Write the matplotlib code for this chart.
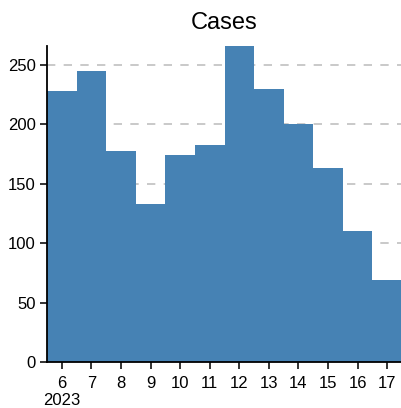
import matplotlib
matplotlib.use("Agg")
import matplotlib.pyplot as plt

weeks = [6, 7, 8, 9, 10, 11, 12, 13, 14, 15, 16, 17]
cases = [228, 245, 178, 133, 174, 183, 266, 230, 200, 163, 110, 69]
tick_labels = ["6\n2023", "7", "8", "9", "10", "11", "12", "13", "14", "15", "16", "17"]
yticks = [0, 50, 100, 150, 200, 250]

plt.rcParams['font.family'] = ['Liberation Sans', 'DejaVu Sans']
fig = plt.figure(figsize=(4.02, 4.08), dpi=100)
ax = fig.add_axes([0.117, 0.1127, 0.883, 0.7745])
ax.bar(weeks, cases, width=1.0, color='#4682b4', linewidth=0, zorder=2)
ax.set_xlim(5.5, 17.5)
ax.set_ylim(0, max(cases))
ax.set_xticks(weeks)
ax.set_xticklabels(tick_labels, fontsize=12, ha='center', va='top', linespacing=1.15)
for lbl in ax.get_xticklabels():
    lbl.set_multialignment('center')
ax.set_yticks(yticks)
ax.set_yticklabels([str(v) for v in yticks], fontsize=12)
ax.yaxis.grid(True, linestyle=(0, (5, 5)), color='#c0c0c0', linewidth=1.2, zorder=0)
ax.set_axisbelow(True)
for s in ['top', 'right']:
    ax.spines[s].set_visible(False)
ax.spines['left'].set_linewidth(1.3)
ax.spines['bottom'].set_linewidth(1.3)
ax.tick_params(axis='y', width=1.3, length=5, color='#222222', pad=3)
ax.tick_params(axis='x', width=1.3, length=5, color='#222222', pad=5)
ax.set_title("Cases", fontsize=17, pad=12)
fig.savefig("out.png", dpi=100)
